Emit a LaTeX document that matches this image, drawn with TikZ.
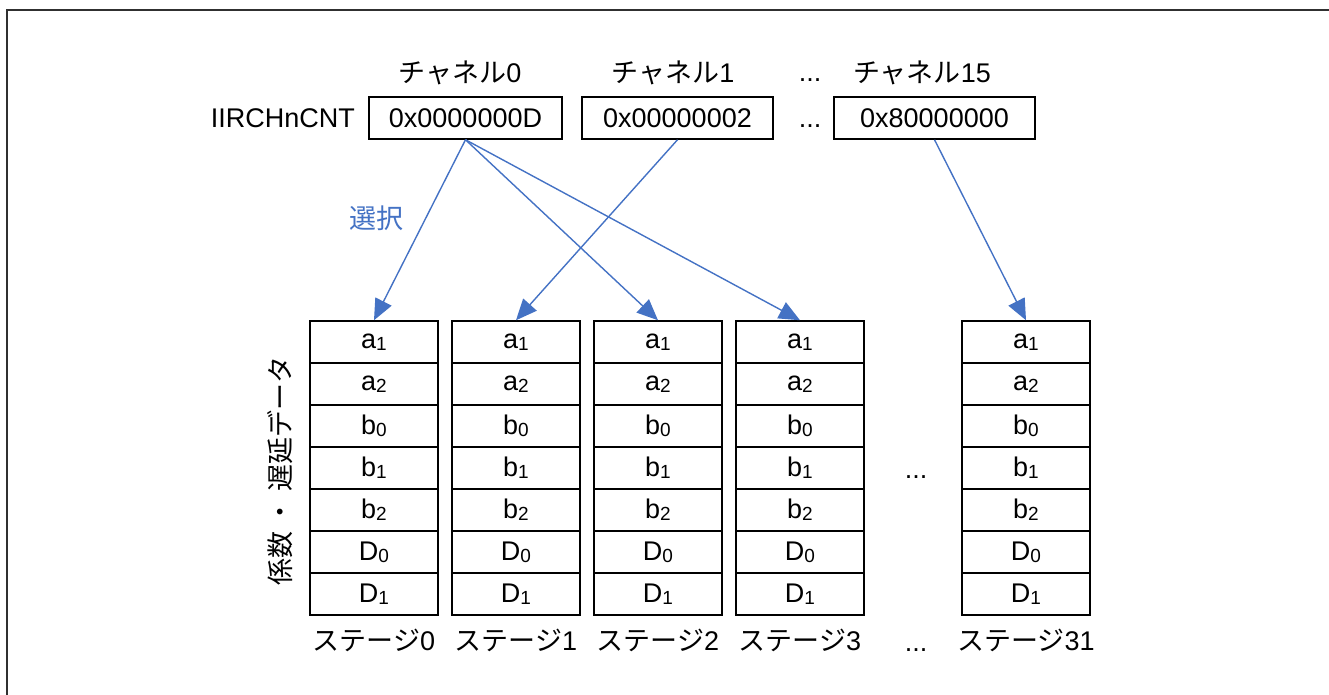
\documentclass[tikz,border=0pt]{standalone}
\usepackage{fontspec}
\setmainfont{Liberation Sans}
\newfontfamily\jp{Noto Sans CJK JP}
\usetikzlibrary{arrows.meta}
\definecolor{selblue}{HTML}{4472C4}
\definecolor{framegray}{HTML}{303030}
\newcommand{\mysub}[1]{\raisebox{-2pt}{\fontsize{19}{19}\selectfont #1}}
\begin{document}
\begin{tikzpicture}[x=1pt,y=-1pt,
  every node/.style={font=\fontsize{27}{32}\selectfont, inner sep=0pt},
  cell/.style={draw=black, line width=1.5pt, minimum width=128pt, minimum height=42pt},
  regbox/.style={draw=black, line width=1.5pt, minimum height=42pt},
  sel/.style={draw=selblue, line width=1.4pt, -{Triangle[length=21pt,width=18pt]}},
  frameline/.style={draw=framegray, line width=2pt}]
\useasboundingbox (0,0) rectangle (1329,695);
\draw[frameline] (1329,10) -- (7,10) -- (7,695);
% channel labels
\node (ch0) at (460,73) {{\jp チャネル}0};
\node (ch1) at (673,73) {{\jp チャネル}1};
\node[anchor=base] (chd) at (810,82) {...};
\node (ch15) at (922,73) {{\jp チャネル}15};
% registers
\node[anchor=east] (reg) at (355,118) {IIRCHnCNT};
\node[regbox, minimum width=193pt] (b0) at (465.5,118) {0x0000000D};
\node[regbox, minimum width=191pt] (b1) at (677.5,118) {0x00000002};
\node[anchor=base] (bd) at (810,128) {...};
\node[regbox, minimum width=201pt] (b15) at (934.5,118) {0x80000000};
% stages
\foreach \x/\n [count=\i from 0] in {374/0,516/1,658/2,800/3,1026/31}{
  \foreach \t [count=\j] in {{a\mysub{1}},{a\mysub{2}},{b\mysub{0}},{b\mysub{1}},{b\mysub{2}},{D\mysub{0}},{D\mysub{1}}}{
    \node[cell] (s\i r\j) at (\x,{321+21+42*(\j-1)}) {\t};
  }
  \node (sl\i) at (\x,640) {{\jp ステージ}\n};
}
\node[anchor=base] (sd1) at (916,478) {...};
\node[anchor=base] (sd2) at (916,651) {...};
% side label
\node[rotate=90] (side) at (280,471) {\jp 係数 ・ 遅延データ};
% selection label
\node[text=selblue] (seltxt) at (376,218) {\jp 選択};
% arrows
\draw[sel] (b0.south) -- (s0r1.north);
\draw[sel] (b0.south) -- (s2r1.north);
\draw[sel] (b0.south) -- (s3r1.north);
\draw[sel] (b1.south) -- (s1r1.north);
\draw[sel] (b15.south) -- (s4r1.north);
\end{tikzpicture}
\end{document}
